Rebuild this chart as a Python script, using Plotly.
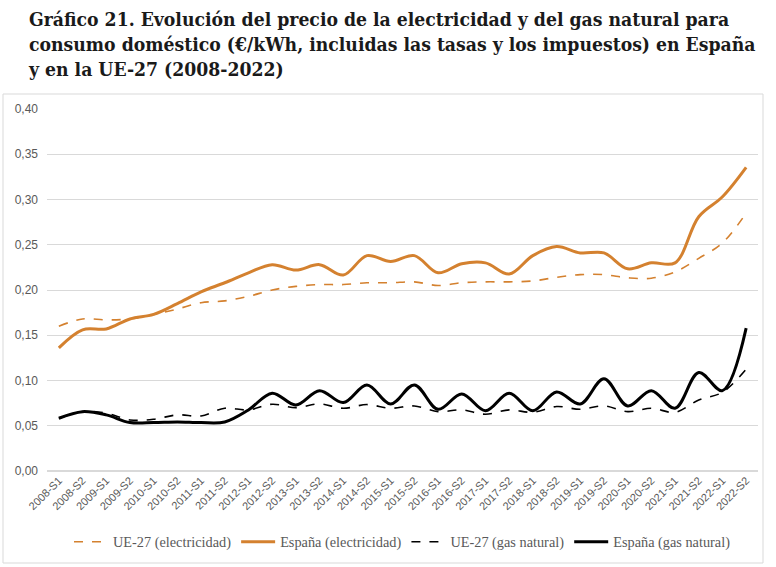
import plotly.graph_objects as go

categories = [f"{y}-S{s}" for y in range(2008, 2023) for s in (1, 2)]

ue_elec = [0.160, 0.168, 0.167, 0.168, 0.173, 0.179, 0.186, 0.188, 0.193, 0.200,
           0.204, 0.206, 0.206, 0.208, 0.208, 0.209, 0.205, 0.208, 0.209, 0.209,
           0.210, 0.214, 0.217, 0.217, 0.2135, 0.213, 0.220, 0.235, 0.252, 0.285]
es_elec = [0.136, 0.156, 0.157, 0.168, 0.173, 0.185, 0.198, 0.208, 0.219, 0.228,
           0.222, 0.228, 0.2165, 0.238, 0.2315, 0.238, 0.219, 0.229, 0.230, 0.2176,
           0.238, 0.248, 0.241, 0.241, 0.2234, 0.230, 0.230, 0.281, 0.303, 0.3355]
ue_gas = [0.058, 0.0656, 0.064, 0.0564, 0.0572, 0.062, 0.0608, 0.0693, 0.0675, 0.0738,
          0.070, 0.0741, 0.0693, 0.0734, 0.0693, 0.0719, 0.0656, 0.0675, 0.0627, 0.0675,
          0.0649, 0.0712, 0.0682, 0.0719, 0.0656, 0.0693, 0.0649, 0.0785, 0.087, 0.1125]
es_gas = [0.0583, 0.0656, 0.062, 0.0535, 0.0535, 0.0542, 0.0535, 0.0542, 0.0675, 0.086,
          0.073, 0.0888, 0.0756, 0.0951, 0.0741, 0.0951, 0.0682, 0.0852, 0.0667, 0.086,
          0.0667, 0.0874, 0.0741, 0.1018, 0.0719, 0.0888, 0.0693, 0.1088, 0.0888, 0.1578]

y_ticks = [0.0, 0.05, 0.10, 0.15, 0.20, 0.25, 0.30, 0.35, 0.40]
y_labels = [f"{v:.2f}".replace(".", ",") for v in y_ticks]

title_lines = [
    "Gráfico 21. Evolución del precio de la electricidad y del gas natural para",
    "consumo doméstico (€/kWh, incluidas las tasas y los impuestos) en España",
    "y en la UE-27 (2008-2022)",
]

ORANGE = "#D4812F"
GRAY_TXT = "#595959"
SANS = "Liberation Sans, Arial, sans-serif"
SERIF = "Liberation Serif, serif"

W, H = 776, 567
L, R, T, B = 47, 18, 109, 96
PW, PH = W - L - R, H - T - B


def px_x(x):
    return (x - L) / PW


def px_y(y):
    return (H - B - y) / PH


fig = go.Figure()
fig.add_trace(go.Scatter(x=categories, y=ue_elec, name="UE-27 (electricidad)", mode="lines",
                         line=dict(color=ORANGE, width=1.6, dash="dash", shape="spline", smoothing=1)))
fig.add_trace(go.Scatter(x=categories, y=es_elec, name="España (electricidad)", mode="lines",
                         line=dict(color=ORANGE, width=3, shape="spline", smoothing=1)))
fig.add_trace(go.Scatter(x=categories, y=ue_gas, name="UE-27 (gas natural)", mode="lines",
                         line=dict(color="black", width=1.6, dash="dash", shape="spline", smoothing=1)))
fig.add_trace(go.Scatter(x=categories, y=es_gas, name="España (gas natural)", mode="lines",
                         line=dict(color="black", width=3, shape="spline", smoothing=1)))

annotations = [
    dict(text="<b>" + "<br>".join(title_lines) + "</b>", xref="paper", yref="paper",
         x=px_x(26), y=px_y(6), xanchor="left", yanchor="top", align="left", showarrow=False,
         font=dict(family="DejaVu Serif Condensed, DejaVu Serif, serif", size=19.2, color="#1a1a1a"))
]

fig.update_layout(
    width=W, height=H,
    margin=dict(l=L, r=R, t=T, b=B, autoexpand=False),
    paper_bgcolor="white", plot_bgcolor="white",
    annotations=annotations,
    xaxis=dict(
        type="category", range=[-0.5, len(categories) - 0.5], automargin=False,
        tickangle=-45, showgrid=False, showline=False, ticks="",
        tickfont=dict(family=SANS, size=11, color=GRAY_TXT),
    ),
    yaxis=dict(
        range=[0, 0.4], tickvals=y_ticks, ticktext=y_labels, showgrid=True, automargin=False,
        gridcolor="#d9d9d9", gridwidth=1, zeroline=True, zerolinecolor="#d9d9d9",
        showline=False, ticks="", ticklabelstandoff=8,
        tickfont=dict(family=SANS, size=12, color=GRAY_TXT),
    ),
    legend=dict(
        orientation="h", x=0.5, xanchor="center", y=px_y(542), yanchor="middle",
        font=dict(family=SERIF, size=14.3, color=GRAY_TXT),
        itemwidth=34,
    ),
    shapes=[dict(type="rect", xref="paper", yref="paper",
                 x0=px_x(3), x1=px_x(763), y0=px_y(563), y1=px_y(94),
                 line=dict(color="#d9d9d9", width=1), fillcolor="rgba(0,0,0,0)", layer="below")],
)

fig.write_html("out.html", config={"displayModeBar": False},
               post_script="document.body.style.margin='0';")
